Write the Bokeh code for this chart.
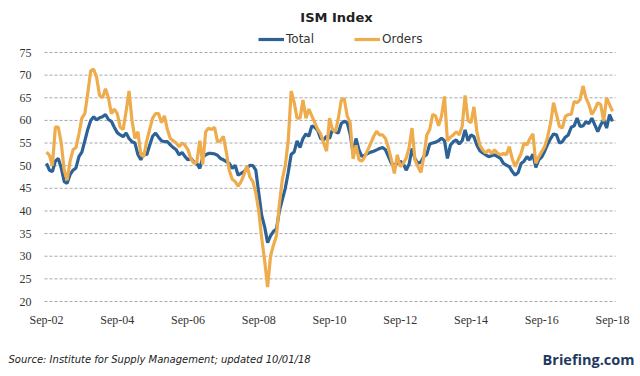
import pandas as pd
from bokeh.plotting import figure
from bokeh.models import Range1d, Legend, LegendItem, Label
from bokeh.embed import file_html
from bokeh.resources import INLINE

# Monthly ISM readings, Sep-2002 .. Sep-2018
dates = pd.date_range("2002-09-01", periods=193, freq="MS")

total = [
    50.5, 49.0, 48.7, 51.0, 51.6, 49.5, 46.5, 46.1, 48.0, 49.0, 49.5, 52.0,
    53.0, 55.5, 58.0, 60.0, 60.8, 60.1, 60.6, 60.8, 61.3, 60.2, 59.8, 58.5,
    57.3, 56.8, 56.4, 57.2, 56.0, 55.3, 55.0, 52.5, 51.3, 52.7, 52.4, 54.5,
    56.5, 57.2, 56.3, 55.5, 55.3, 55.3, 54.6, 54.0, 53.5, 52.4, 52.9, 52.0,
    51.3, 51.6, 50.8, 50.5, 49.4, 51.8, 52.4, 52.7, 52.7, 52.6, 52.3, 51.6,
    51.3, 50.9, 50.5, 49.4, 50.1, 47.9, 48.3, 48.7, 49.4, 50.1, 50.0, 49.0,
    44.0, 39.0, 36.5, 33.0, 34.5, 35.5, 36.0, 40.0, 42.5, 45.0, 48.5, 52.5,
    53.0, 55.5, 54.0, 56.0, 57.0, 56.5, 58.8, 58.5, 57.8, 56.0, 55.7, 56.5,
    56.0, 58.0, 57.5, 57.2, 59.3, 59.8, 59.5, 57.0, 52.8, 56.0, 53.5, 52.0,
    52.3, 52.7, 53.0, 53.2, 53.5, 53.8, 54.0, 53.5, 52.0, 50.5, 50.1, 50.5,
    51.0, 50.5, 49.0, 50.3, 53.8, 51.5, 50.5, 50.8, 52.0, 52.5, 54.8, 55.0,
    55.2, 55.5, 56.1, 55.5, 51.6, 54.5, 55.3, 55.7, 54.8, 55.5, 57.9, 55.5,
    56.8, 56.4, 54.5, 53.3, 52.8, 52.4, 52.0, 52.2, 52.4, 52.0, 51.6, 50.5,
    50.1, 49.8, 48.7, 47.9, 48.5, 50.5, 51.0, 52.0, 51.3, 52.5, 49.6, 51.3,
    51.9, 53.2, 54.7, 56.0, 57.0, 56.8, 55.0, 55.3, 56.3, 56.8, 58.5, 58.8,
    60.5, 58.7, 58.8, 59.7, 59.3, 60.5, 59.0, 57.5, 59.0, 60.2, 58.3, 61.3,
    59.8,
]

orders = [
    53.0, 52.3, 50.0, 58.5, 58.5, 55.0, 49.0, 46.8, 51.0, 53.5, 54.0, 57.0,
    60.5, 61.5, 66.0, 71.0, 71.3, 69.5, 65.5, 65.0, 67.0, 65.0, 61.5, 62.5,
    61.5, 58.5, 58.0, 62.0, 66.5, 60.0, 56.0, 57.5, 52.5, 52.0, 55.5, 58.0,
    60.5, 61.5, 61.5, 59.5, 61.0, 58.0, 56.0, 55.5, 55.0, 54.2, 55.0, 54.5,
    53.5, 51.5, 50.5, 50.8, 55.5, 50.3, 57.5, 58.3, 58.0, 58.5, 55.3, 55.5,
    56.5, 53.0, 49.0, 47.0, 46.5, 45.5, 46.5, 48.0, 50.0, 47.5, 46.5, 44.0,
    40.0, 34.0, 29.0, 23.2, 30.0, 32.5, 34.5, 41.5, 47.0, 50.0, 55.5, 66.5,
    64.0, 60.5, 60.5, 64.5, 60.5, 62.5, 61.0, 59.5, 58.0, 57.0, 55.0, 53.2,
    60.5, 58.0, 57.5, 60.5, 64.5, 64.8, 61.0, 59.5, 51.5, 54.5, 51.3, 51.0,
    52.0, 53.5, 55.0, 56.5, 57.6, 56.8, 56.8, 56.0, 53.9, 51.3, 48.3, 52.4,
    49.8, 50.5, 51.6, 54.0, 58.3, 51.3, 49.8, 48.5, 52.0, 56.8, 58.0, 61.3,
    61.0, 58.8, 61.0, 65.3, 55.5, 56.3, 56.8, 57.5, 56.8, 58.7, 65.5, 60.0,
    59.5, 63.0, 57.5, 54.5, 53.5, 52.8, 53.5, 52.7, 53.5, 52.8, 52.4, 52.7,
    52.4, 54.2, 51.5, 49.8, 51.3, 52.7, 55.0, 54.6, 56.0, 57.0, 50.5, 52.0,
    53.1, 54.2, 56.4, 59.4, 63.9, 61.3, 58.7, 58.3, 60.9, 61.3, 61.3, 64.2,
    63.9, 64.6, 67.6, 65.0, 63.5, 61.3, 62.4, 63.9, 63.5, 59.8, 65.0, 63.5,
    62.0,
]

months = list(range(len(dates)))
tick_months = [0, 24, 48, 72, 96, 120, 144, 168, 192]
tick_labels = ["Sep-02", "Sep-04", "Sep-06", "Sep-08", "Sep-10",
               "Sep-12", "Sep-14", "Sep-16", "Sep-18"]
y_ticks = [20, 25, 30, 35, 40, 45, 50, 55, 60, 65, 70, 75]
y_tick_labels = [str(v) for v in y_ticks]

# ---- layout (pixel geometry of the plotting area inside a 640x376 canvas)
W, H = 640, 376
PX_LEFT, PX_RIGHT = 46.0, 612.0      # pixel x of first / last month
PX_TOP, PX_BOTTOM = 52.0, 301.0      # pixel y of y=75 / y=20
n_m = len(months) - 1
kx = (PX_RIGHT - PX_LEFT) / n_m
ky = (PX_BOTTOM - PX_TOP) / (y_ticks[-1] - y_ticks[0])
x_start = -PX_LEFT / kx
x_end = x_start + W / kx
y_end = y_ticks[-1] + PX_TOP / ky
y_start = y_end - H / ky

def xdata(px):
    return x_start + px / kx

def ydata(py):
    return y_end - py / ky

FONT = "DejaVu Sans"
TEXT = "#333333"

p = figure(width=W, height=H, output_backend="svg", toolbar_location=None,
           x_range=Range1d(x_start, x_end), y_range=Range1d(y_start, y_end),
           x_axis_type=None, y_axis_type=None, min_border=0)
p.title.visible = False
p.outline_line_color = None
p.background_fill_color = "white"
p.border_fill_color = "white"
p.grid.visible = False

# dashed horizontal grid lines, from the y tick values
n_y = len(y_ticks)
p.segment(x0=[xdata(44)] * n_y, x1=[xdata(615)] * n_y, y0=y_ticks, y1=y_ticks,
          line_color="#a8a8a8", line_dash="3 2", line_width=1)

# tick labels
p.text(x=[xdata(31)] * n_y, y=y_ticks, text=y_tick_labels,
       text_align="right", text_baseline="middle", text_font="DejaVu Sans",
       text_font_size="12px", text_color=TEXT)
p.text(x=tick_months, y=[ydata(319)] * len(tick_months), text=tick_labels,
       text_align="center", text_baseline="middle", text_font="DejaVu Sans",
       text_font_size="12px", text_color=TEXT)

r_total = p.line(months, total, line_color="#2c6296", line_width=3.2)
r_orders = p.line(months, orders, line_color="#eeac4c", line_width=3.2)

legend = Legend(items=[LegendItem(label="Total", renderers=[r_total]),
                       LegendItem(label="Orders", renderers=[r_orders])],
                orientation="horizontal", location=(258, H - 47),
                padding=0, margin=0, spacing=40, glyph_width=26,
                glyph_height=16, label_height=16, label_standoff=2,
                label_text_font=FONT, label_text_font_size="12px",
                label_text_color=TEXT, border_line_color=None,
                background_fill_alpha=0)
p.add_layout(legend)

p.add_layout(Label(x=336, y=H - 17, x_units="screen", y_units="screen",
                   text="ISM Index", text_align="center", text_baseline="middle",
                   text_font=FONT, text_font_size="13px", text_font_style="bold",
                   text_color="#222222"))
p.add_layout(Label(x=8, y=H - 359, x_units="screen", y_units="screen",
                   text="Source: Institute for Supply Management; updated 10/01/18",
                   text_align="left", text_baseline="alphabetic",
                   text_font=FONT, text_font_size="10px", text_font_style="italic",
                   text_color="#222222"))
p.add_layout(Label(x=634, y=H - 359, x_units="screen", y_units="screen",
                   text="Briefing.com", text_align="right", text_baseline="alphabetic",
                   text_font="Open Sans", text_font_size="14.5px", text_font_style="bold",
                   text_color="#1f3a5f"))

open("out.html", "w").write(file_html(p, INLINE))
